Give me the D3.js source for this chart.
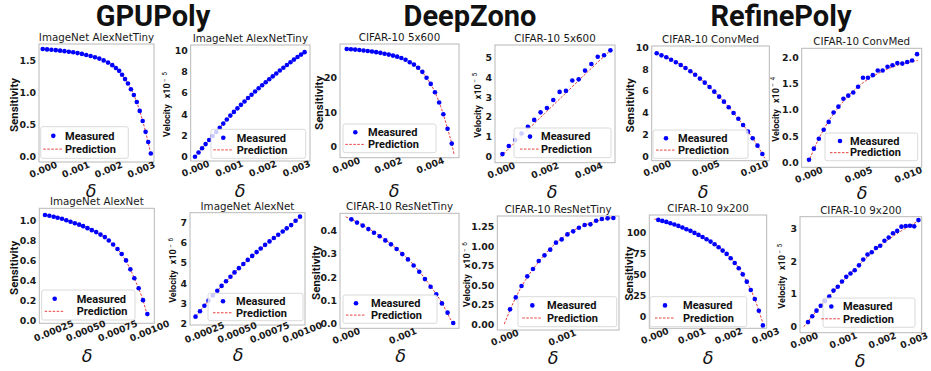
<!DOCTYPE html>
<html><head><meta charset="utf-8">
<script src="https://cdn.jsdelivr.net/npm/d3@7"></script>
<style>body{margin:0;background:#fff}svg{display:block}</style>
</head><body>
<svg id="c" width="931" height="371"></svg>
<script>
// ---------------- DATA ----------------
const groupTitles = ["GPUPoly", "DeepZono", "RefinePoly"];
const legendLabels = ["Measured", "Prediction"];

// GPUPoly ImageNet AlexNetTiny
const gpuTinyX = [0,0.133e-3,0.266e-3,0.4e-3,0.533e-3,0.666e-3,0.8e-3,0.933e-3,1.066e-3,1.2e-3,1.333e-3,1.466e-3,1.6e-3,1.733e-3,1.866e-3,2.0e-3,2.13e-3,2.24e-3,2.34e-3,2.43e-3,2.52e-3,2.61e-3,2.7e-3,2.79e-3,2.88e-3,2.97e-3,3.06e-3,3.15e-3,3.23e-3,3.31e-3];
const gpuTinySens = [1.683,1.678,1.673,1.666,1.658,1.65,1.641,1.632,1.62,1.607,1.59,1.574,1.555,1.533,1.505,1.47,1.43,1.385,1.34,1.28,1.21,1.14,1.05,0.96,0.85,0.71,0.55,0.38,0.22,0.04];
const gpuTinySensPredX = [0,0.5e-3,1.0e-3,1.5e-3,1.8e-3,2.1e-3,2.4e-3,2.6e-3,2.8e-3,3.0e-3,3.15e-3,3.31e-3];
const gpuTinySensPred = [1.683,1.66,1.627,1.57,1.52,1.44,1.30,1.15,0.95,0.66,0.38,0.03];
const gpuTinyVelX = [0,0.105e-3,0.21e-3,0.315e-3,0.42e-3,0.525e-3,0.63e-3,0.735e-3,0.84e-3,0.945e-3,1.05e-3,1.155e-3,1.26e-3,1.365e-3,1.47e-3,1.575e-3,1.68e-3,1.785e-3,1.89e-3,1.995e-3,2.1e-3,2.205e-3,2.31e-3,2.415e-3,2.52e-3,2.625e-3,2.73e-3,2.835e-3,2.94e-3,3.045e-3,3.15e-3,3.255e-3];
const gpuTinyVel = [0,0.4,0.79,1.18,1.56,1.94,2.32,2.72,3.1,3.48,3.85,4.2,4.53,4.86,5.18,5.5,5.81,6.11,6.41,6.7,6.98,7.26,7.53,7.8,8.08,8.34,8.6,8.85,9.1,9.34,9.57,9.8];
const gpuTinyVelPredX = [0,0.5e-3,1.0e-3,1.5e-3,2.0e-3,2.5e-3,3.0e-3,3.255e-3];
const gpuTinyVelPred = [0,1.85,3.67,5.26,6.72,8.03,9.22,9.8];

// DeepZono CIFAR-10 5x600
const zono600SensX = [0.05e-3,0.25e-3,0.45e-3,0.65e-3,0.85e-3,1.05e-3,1.25e-3,1.45e-3,1.65e-3,1.85e-3,2.05e-3,2.25e-3,2.45e-3,2.65e-3,2.85e-3,3.05e-3,3.25e-3,3.45e-3,3.65e-3,3.85e-3,4.05e-3,4.25e-3,4.45e-3,4.65e-3,4.85e-3,5.05e-3];
const zono600Sens = [28.3,28.25,28.15,28.05,27.9,27.75,27.6,27.4,27.2,26.95,26.7,26.4,26.1,25.7,25.2,24.5,23.8,22.9,21.7,20.0,18.2,15.8,12.8,9.4,5.2,0.9];
const zono600SensPredX = [0,1.0e-3,2.0e-3,2.8e-3,3.4e-3,3.85e-3,4.25e-3,4.65e-3,4.85e-3,5.05e-3,5.16e-3];
const zono600SensPred = [28.35,27.8,26.8,25.3,23.1,20.0,15.8,9.4,5.2,0.9,-2.2];
const zono600VelX = [0.08e-3,0.37e-3,0.66e-3,0.95e-3,1.24e-3,1.53e-3,1.82e-3,2.11e-3,2.4e-3,2.69e-3,2.98e-3,3.27e-3,3.56e-3,3.85e-3,4.14e-3,4.43e-3,4.72e-3,5.01e-3];
const zono600Vel = [0.13,0.54,0.84,1.17,1.51,1.85,2.23,2.45,2.85,3.26,3.31,3.83,3.89,4.33,4.66,5.03,5.1,5.35];
const zono600VelPredX = [0,1e-3,2e-3,3e-3,4e-3,5.06e-3];
const zono600VelPred = [0,1.1,2.17,3.23,4.3,5.4];

// RefinePoly CIFAR-10 ConvMed
const refConvSensX = [0,0.49e-3,0.99e-3,1.48e-3,1.97e-3,2.47e-3,2.96e-3,3.46e-3,3.95e-3,4.44e-3,4.94e-3,5.43e-3,5.92e-3,6.42e-3,6.91e-3,7.4e-3,7.9e-3,8.39e-3,8.88e-3,9.38e-3,9.87e-3,10.36e-3,10.86e-3];
const refConvSens = [9.45,9.26,9.08,8.86,8.62,8.37,8.1,7.79,7.48,7.12,6.75,6.35,5.92,5.46,5.0,4.48,3.96,3.43,2.85,2.24,1.63,0.95,0.18];
const refConvSensPredX = [0,2e-3,4e-3,6e-3,8e-3,9.5e-3,10.5e-3,11.1e-3];
const refConvSensPred = [9.5,8.62,7.45,5.85,3.85,2.1,0.75,-0.2];
const refConvVelX = [0.07e-3,0.56e-3,1.06e-3,1.55e-3,2.05e-3,2.54e-3,3.03e-3,3.53e-3,4.02e-3,4.52e-3,5.01e-3,5.5e-3,6.0e-3,6.49e-3,6.99e-3,7.48e-3,7.97e-3,8.47e-3,8.96e-3,9.46e-3,9.95e-3,10.44e-3,10.94e-3];
const refConvVel = [0.05,0.26,0.45,0.62,0.77,0.95,1.06,1.21,1.27,1.33,1.44,1.61,1.61,1.66,1.75,1.75,1.82,1.85,1.89,1.88,1.91,1.94,2.06];
const refConvVelPredX = [0,0.5e-3,1e-3,1.5e-3,2e-3,3e-3,4e-3,5e-3,6e-3,7e-3,8e-3,9e-3,10e-3,11e-3];
const refConvVelPred = [0,0.22,0.43,0.61,0.77,1.04,1.26,1.44,1.58,1.69,1.78,1.85,1.9,1.94];

// GPUPoly ImageNet AlexNet
const gpuAlexX = [0.185e-3,0.219e-3,0.253e-3,0.284e-3,0.318e-3,0.352e-3,0.385e-3,0.419e-3,0.453e-3,0.484e-3,0.518e-3,0.552e-3,0.586e-3,0.62e-3,0.654e-3,0.685e-3,0.719e-3,0.753e-3,0.786e-3,0.82e-3,0.854e-3,0.885e-3,0.919e-3,0.953e-3,0.987e-3];
const gpuAlexSens = [1.057,1.05,1.04,1.03,1.02,1.005,0.99,0.975,0.96,0.945,0.925,0.905,0.885,0.86,0.835,0.80,0.76,0.715,0.665,0.60,0.51,0.42,0.32,0.20,0.06];
const gpuAlexSensPredX = [0.185e-3,0.3e-3,0.4e-3,0.5e-3,0.6e-3,0.7e-3,0.75e-3,0.8e-3,0.85e-3,0.9e-3,0.95e-3,0.99e-3];
const gpuAlexSensPred = [1.057,1.027,0.983,0.936,0.875,0.78,0.72,0.635,0.52,0.375,0.21,0.03];
const gpuAlexVel = [2.33,2.6,2.87,3.13,3.38,3.62,3.86,4.09,4.31,4.53,4.74,4.95,5.15,5.35,5.54,5.72,5.9,6.07,6.24,6.4,6.56,6.72,6.88,7.1,7.3];
const gpuAlexVelPredX = [0.185e-3,0.3e-3,0.4e-3,0.5e-3,0.6e-3,0.7e-3,0.8e-3,0.9e-3,0.99e-3];
const gpuAlexVelPred = [2.33,3.25,3.95,4.62,5.22,5.78,6.28,6.78,7.32];

// DeepZono CIFAR-10 ResNetTiny
const zonoResX = [0.1e-3,0.2e-3,0.3e-3,0.4e-3,0.5e-3,0.6e-3,0.7e-3,0.8e-3,0.9e-3,1.0e-3,1.1e-3,1.2e-3,1.3e-3,1.4e-3,1.5e-3,1.6e-3,1.7e-3,1.8e-3,1.9e-3];
const zonoResSens = [0.449,0.435,0.422,0.407,0.391,0.376,0.358,0.341,0.321,0.299,0.276,0.25,0.223,0.191,0.158,0.125,0.086,0.046,0.001];
const zonoResSensPredX = [0,0.3e-3,0.6e-3,0.9e-3,1.2e-3,1.5e-3,1.7e-3,1.9e-3,1.93e-3];
const zonoResSensPred = [0.46,0.424,0.378,0.322,0.252,0.16,0.088,0.0,-0.008];
const zonoResVel = [0.188,0.342,0.488,0.612,0.706,0.809,0.882,0.955,1.045,1.087,1.151,1.19,1.237,1.271,1.28,1.327,1.348,1.357,1.361];
const zonoResVelPredX = [0,0.1e-3,0.2e-3,0.3e-3,0.4e-3,0.6e-3,0.8e-3,1.0e-3,1.2e-3,1.4e-3,1.6e-3,1.9e-3];
const zonoResVelPred = [0,0.18,0.34,0.48,0.6,0.8,0.97,1.1,1.2,1.27,1.32,1.37];

// RefinePoly CIFAR-10 9x200
const ref9X = [0.108e-3,0.217e-3,0.326e-3,0.435e-3,0.544e-3,0.653e-3,0.762e-3,0.871e-3,0.98e-3,1.089e-3,1.198e-3,1.307e-3,1.416e-3,1.525e-3,1.634e-3,1.743e-3,1.852e-3,1.961e-3,2.07e-3,2.179e-3,2.288e-3,2.397e-3,2.506e-3,2.615e-3,2.724e-3,2.833e-3,2.942e-3];
const ref9Sens = [114.7,113.5,112.3,110.8,109.2,107.6,105.6,103.6,101.7,99.3,96.9,94.5,91.8,89,85.8,82.3,78.3,74.4,69.2,63.7,57.4,50.2,41.5,31.6,21,7.1,-10.3];
const ref9SensPredX = [0,0.5e-3,1.0e-3,1.5e-3,2.0e-3,2.3e-3,2.5e-3,2.7e-3,2.85e-3,2.93e-3];
const ref9SensPred = [115.8,109.9,101.3,89.6,72.5,57,42,23.5,5,-6];
const ref9Vel = [0.14,0.32,0.49,0.64,0.78,0.92,1.1,1.22,1.38,1.52,1.62,1.72,1.87,2.05,2.2,2.27,2.4,2.47,2.62,2.72,2.85,2.92,3.05,3.07,3.08,3.06,3.25];
const ref9VelPredX = [0,0.5e-3,1.0e-3,1.5e-3,2.0e-3,2.5e-3,2.94e-3];
const ref9VelPred = [0,0.72,1.38,1.98,2.5,2.92,3.22];

// tick labels
const xt3 = [0,0.001,0.002,0.003], xt24 = [0,0.002,0.004], xt510 = [0,0.005,0.010];
const xtAlex = [0.00025,0.0005,0.00075,0.001], xt01 = [0,0.001];
const ytTinySens = [0,0.5,1.0,1.5], ytTinyVel = [0,2,4,6,8,10];
const yt600Sens = [0,10,20], yt600Vel = [0,1,2,3,4,5];
const ytConvSens = [0,2,4,6,8,10], ytConvVel = [0,0.5,1.0,1.5,2.0];
const ytAlexSens = [0,0.2,0.4,0.6,0.8,1.0], ytAlexVel = [2,3,4,5,6,7];
const ytResSens = [0,0.1,0.2,0.3,0.4], ytResVel = [0,0.25,0.5,0.75,1.0,1.25];
const yt9Sens = [0,25,50,75,100], yt9Vel = [0,1,2,3];

// ---------------- LAYOUT ----------------
const panels = [
 {t:"ImageNet AlexNetTiny", k:"s", f:[39,44,154,162], xc:[0,42.7,0.003,140.7], yc:[0,156,1.5,60.7], xt:xt3, xf:".3f", yt:ytTinySens, yf:".1f",
  mx:gpuTinyX, my:gpuTinySens, px:gpuTinySensPredX, py:gpuTinySensPred, lg:[40.7,126.7,87.6,31.6,12.6,24.3], yl:17.5, dl:[91,196.5]},
 {t:"ImageNet AlexNetTiny", k:"v", e:"5", f:[190.7,45,310,161], xc:[0,195,0.003,296], yc:[0,156.7,10,50], xt:xt3, xf:".3f", yt:ytTinyVel, yf:"d",
  mx:gpuTinyVelX, my:gpuTinyVel, px:gpuTinyVelPredX, py:gpuTinyVelPred, lg:[211,129.3,94.7,29,12.3,25.7], yl:170, dl:[240,196.5]},
 {t:"CIFAR-10 5x600", k:"s", f:[340,44,459,157.7], xc:[0,345.7,0.004,429.7], yc:[0,146.7,20,77.7], xt:xt24, xf:".3f", yt:yt600Sens, yf:"d",
  mx:zono600SensX, my:zono600Sens, px:zono600SensPredX, py:zono600SensPred, lg:[343,124,93,28.7,12.3,25], yl:322.6, dl:[394,197]},
 {t:"CIFAR-10 5x600", k:"v", e:"5", f:[495,45,615,162.7], xc:[0,500.7,0.004,588.3], yc:[0,156.7,5,57.3], xt:xt24, xf:".3f", yt:yt600Vel, yf:"d",
  mx:zono600VelX, my:zono600Vel, px:zono600VelPredX, py:zono600VelPred, lg:[514,128,97,29.7,16,27], yl:480.5, dl:[552,198]},
 {t:"CIFAR-10 ConvMed", k:"s", f:[651.7,46,769.3,160.7], xc:[0,656.7,0.01,754], yc:[0,156,10,47.3], xt:xt510, xf:".3f", yt:ytConvSens, yf:"d",
  mx:refConvSensX, my:refConvSens, px:refConvSensPredX, py:refConvSensPred, lg:[653,130,95,28.3,13,25], yl:633.5, dl:[703,198]},
 {t:"CIFAR-10 ConvMed", k:"v", e:"4", f:[801.7,48.3,921.7,167.3], xc:[0,808.3,0.01,907.7], yc:[0,162.3,2,57.3], xt:xt510, xf:".3f", yt:ytConvVel, yf:".1f",
  mx:refConvVelX, my:refConvVel, px:refConvVelPredX, py:refConvVelPred, lg:[825,133,92.7,27.7,15,25], yl:778.5, dl:[862,199]},
 {t:"ImageNet AlexNet", k:"s", f:[39.3,208.3,154.3,323.3], xc:[0.00025,53.3,0.001,149], yc:[0,320,1,220.7], xt:xtAlex, xf:".5f", yt:ytAlexSens, yf:".1f",
  mx:gpuAlexX, my:gpuAlexSens, px:gpuAlexSensPredX, py:gpuAlexSensPred, lg:[41.7,290,93.3,30,13,35], yl:17.5, dl:[87,362]},
 {t:"ImageNet AlexNet", k:"v", e:"6", f:[190,212.7,305,325], xc:[0.00025,204,0.001,301.7], yc:[2,323.3,7,222.7], xt:xtAlex, xf:".5f", yt:ytAlexVel, yf:"d",
  mx:gpuAlexX, my:gpuAlexVel, px:gpuAlexVelPredX, py:gpuAlexVelPred, lg:[208,293.3,95,27.4,15,28], yl:176, dl:[238,361]},
 {t:"CIFAR-10 ResNetTiny", k:"s", f:[340,213.3,459,328.3], xc:[0,345.7,0.001,402.3], yc:[0,323.3,0.4,230.7], xt:xt01, xf:".3f", yt:ytResSens, yf:".1f",
  mx:zonoResX, my:zonoResSens, px:zonoResSensPredX, py:zonoResSensPred, lg:[343,295,94,28.3,13,28], yl:319.5, dl:[400.7,362]},
 {t:"CIFAR-10 ResNetTiny", k:"v", e:"6", f:[497.3,216,619,330], xc:[0,504.3,0.001,561.7], yc:[0,324,1.25,226.7], xt:xt01, xf:".3f", yt:ytResVel, yf:".2f",
  mx:zonoResX, my:zonoResVel, px:zonoResVelPredX, py:zonoResVelPred, lg:[518,296.7,98.7,30,14.3,29], yl:470, dl:[553,364]},
 {t:"CIFAR-10 9x200", k:"s", f:[649.3,215,766.7,328.3], xc:[0,654.3,0.003,765], yc:[0,316.7,100,232.3], xt:xt3, xf:".3f", yt:yt9Sens, yf:"d",
  mx:ref9X, my:ref9Sens, px:ref9SensPredX, py:ref9SensPred, lg:[650,296.7,96.7,30,15,33], yl:632.5, dl:[708,364]},
 {t:"CIFAR-10 9x200", k:"v", e:"5", f:[800,216.7,921.7,332.7], xc:[0,803.8,0.003,920.7], yc:[0,326.7,3,228.3], xt:xt3, xf:".3f", yt:yt9Vel, yf:"d",
  mx:ref9X, my:ref9Vel, px:ref9VelPredX, py:ref9VelPred, lg:[823,298,92,29.3,8.3,20], yl:785, dl:[860,367]}
];
const groupPos = [[153,26],[470,26],[781,26]];

// ---------------- DRAW ----------------
const svg = d3.select("#c");
const TXT = "#1a1a1a", BLUE = "#0000ff", RED = "#e8413c";
const TICKFONT = "'DejaVu Sans', sans-serif";
const LABFONT = "Roboto, 'Liberation Sans', sans-serif";
const W = 931, XLAB_OFF = 7.5;

groupTitles.forEach((t,i) => {
  svg.append("text").attr("x", groupPos[i][0]).attr("y", groupPos[i][1])
    .attr("text-anchor","middle").attr("font-family", LABFONT).attr("font-weight","bold")
    .attr("font-size", 29).attr("fill", "#111").text(t);
});

panels.forEach((p, idx) => {
  const [x0,y0,x1,y1] = p.f;
  const x = d3.scaleLinear().domain([p.xc[0], p.xc[2]]).range([p.xc[1], p.xc[3]]);
  const y = d3.scaleLinear().domain([p.yc[0], p.yc[2]]).range([p.yc[1], p.yc[3]]);
  const g = svg.append("g");
  const cid = "clip" + idx;
  g.append("clipPath").attr("id", cid).append("rect")
    .attr("x", x0).attr("y", y0).attr("width", x1-x0).attr("height", y1-y0);
  g.append("rect").attr("x", x0).attr("y", y0).attr("width", x1-x0).attr("height", y1-y0)
    .attr("fill","#fff").attr("stroke","#b8b8b8").attr("stroke-width",1);

  const plot = g.append("g").attr("clip-path", `url(#${cid})`);
  const line = d3.line().x(d=>x(d[0])).y(d=>y(d[1])).curve(d3.curveMonotoneX);
  plot.append("path").attr("d", line(d3.zip(p.px, p.py)))
    .attr("fill","none").attr("stroke", RED).attr("stroke-width",1).attr("stroke-dasharray","2.5,1.5");
  plot.selectAll("circle").data(d3.zip(p.mx, p.my)).join("circle")
    .attr("cx", d=>x(d[0])).attr("cy", d=>y(d[1])).attr("r", 2.3).attr("fill", BLUE);

  // y axis
  const ya = g.append("g").attr("transform", `translate(${x0},0)`)
    .call(d3.axisLeft(y).tickValues(p.yt).tickFormat(d3.format(p.yf)).tickSize(0).tickPadding(3));
  ya.select(".domain").remove();
  ya.selectAll("text").attr("font-family", TICKFONT).attr("font-weight","bold").attr("font-size",9.4).attr("fill",TXT);

  // x axis
  const xa = g.append("g").attr("transform", `translate(0,${y1})`)
    .call(d3.axisBottom(x).tickValues(p.xt).tickFormat(d3.format(p.xf)).tickSize(0));
  xa.select(".domain").remove();
  xa.selectAll("text").attr("y",0).attr("dy","0.35em").attr("text-anchor","middle")
    .attr("transform",`translate(0,${XLAB_OFF}) rotate(-22)`)
    .attr("font-family", TICKFONT).attr("font-weight","bold").attr("font-size",9.2).attr("fill",TXT)
    .each(function() {
      const b = this.getBoundingClientRect();
      if (b.right > W - 1.5) {
        const s = b.right - (W - 1.5);
        d3.select(this).attr("transform", `translate(${-s},${XLAB_OFF}) rotate(-22)`);
      }
    });

  // title
  g.append("text").attr("x",(x0+x1)/2).attr("y",y0-3).attr("text-anchor","middle")
    .attr("font-family", TICKFONT).attr("font-size",10.3).attr("fill",TXT).text(p.t);

  // y label
  const cy = (y0+y1)/2;
  if (p.k === "s") {
    g.append("text").attr("transform",`translate(${p.yl},${cy+2}) rotate(-90)`).attr("text-anchor","middle")
      .attr("font-family", LABFONT).attr("font-weight","bold").attr("font-size",11.5).attr("fill","#111").text("Sensitivity");
  } else {
    const tx = g.append("text").attr("transform",`translate(${p.yl},${cy+1.5}) rotate(-90)`).attr("text-anchor","middle")
      .attr("font-family", LABFONT).attr("font-weight","bold").attr("font-size",9).attr("fill","#111");
    tx.append("tspan").text("Velocity");
    tx.append("tspan").attr("dx",6).text("x10");
    tx.append("tspan").attr("dx",1.5).attr("dy",-3.5).attr("font-size",6.5).attr("font-weight","normal").text("\u2212");
    tx.append("tspan").attr("dx",2.5).attr("font-size",6.5).attr("font-weight","normal").text(p.e);
  }

  // delta
  g.append("text").attr("x",p.dl[0]).attr("y",p.dl[1]).attr("text-anchor","middle")
    .attr("font-family", TICKFONT).attr("font-style","italic").attr("font-size",17.5).attr("fill","#111").text("\u03b4");

  // legend
  const [lx,ly,lw,lh,ldx,ltx] = p.lg;
  const lgG = g.append("g");
  lgG.append("rect").attr("x",lx).attr("y",ly).attr("width",lw).attr("height",lh).attr("rx",2)
    .attr("fill","#fff").attr("fill-opacity",0.8).attr("stroke","#d0d0d0").attr("stroke-width",0.8);
  const r1 = ly + lh*0.29, r2 = ly + lh*0.71;
  lgG.append("circle").attr("cx", lx+ldx).attr("cy", r1).attr("r",2.3).attr("fill",BLUE);
  lgG.append("line").attr("x1", lx+ldx-10).attr("x2", lx+ldx+10).attr("y1", r2).attr("y2", r2)
    .attr("stroke",RED).attr("stroke-width",1).attr("stroke-dasharray","2.5,1.5");
  legendLabels.forEach((s,i) => {
    lgG.append("text").attr("x", lx+ltx).attr("y", (i?r2:r1)+3.8)
      .attr("font-family", LABFONT).attr("font-weight","bold").attr("font-size",11).attr("fill","#111").text(s);
  });
});
</script>
</body></html>
